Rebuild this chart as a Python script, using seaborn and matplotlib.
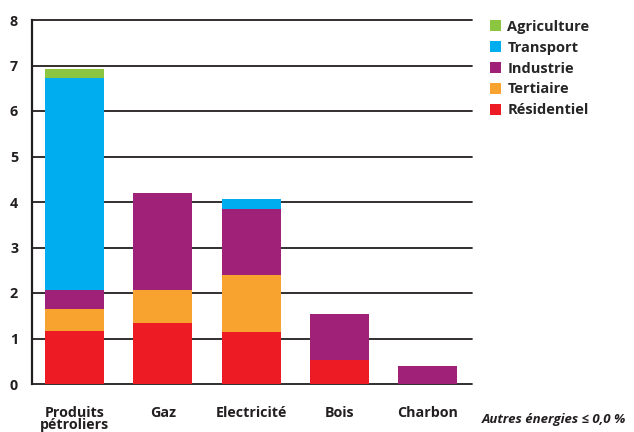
import matplotlib
matplotlib.use("Agg")
import matplotlib.pyplot as plt
from matplotlib.patches import Patch
import numpy as np
import pandas as pd
import seaborn as sns

sns.set_style("white")
plt.rcParams["font.family"] = ["Open Sans", "DejaVu Sans"]
plt.rcParams["font.weight"] = "bold"

# Consommation par source d'énergie et par secteur
energies = ["Produits\npétroliers", "Gaz", "Electricité", "Bois", "Charbon"]
residentiel = [1.17, 1.34, 1.14, 0.53, 0.0]
tertiaire = [0.48, 0.73, 1.26, 0.0, 0.0]
industrie = [0.42, 2.13, 1.45, 1.01, 0.40]
transport = [4.65, 0.0, 0.22, 0.0, 0.0]
agriculture = [0.20, 0.0, 0.0, 0.0, 0.0]

secteurs = ["Résidentiel", "Tertiaire", "Industrie", "Transport", "Agriculture"]
couleurs = ["#ed1c24", "#f8a230", "#a02278", "#00adee", "#8cc540"]
y_ticks = [0, 1, 2, 3, 4, 5, 6, 7, 8]
note = "Autres énergies ≤ 0,0 %"

df = pd.DataFrame(
    {"energie": energies, "Résidentiel": residentiel, "Tertiaire": tertiaire,
     "Industrie": industrie, "Transport": transport, "Agriculture": agriculture}
)
cumul = df[secteurs].cumsum(axis=1)

fig = plt.figure(figsize=(6.34, 4.32), dpi=100)
ax = fig.add_axes([32 / 634, 48 / 432, 440 / 634, 364 / 432])

# Empilement : on trace les totaux cumulés du plus haut au plus bas
for secteur, couleur in reversed(list(zip(secteurs, couleurs))):
    sns.barplot(data=cumul.assign(energie=energies), x="energie", y=secteur,
                color=couleur, width=0.67, saturation=1, ax=ax, zorder=3,
                linewidth=0, order=energies)

ax.set_ylim(0, 8)
ax.set_xlim(-0.48, 4.5)
ax.set_yticks(y_ticks)
ax.set_yticklabels([str(v) for v in y_ticks], fontsize=10.3, fontweight="bold",
                   color="#231f20")
ax.set_xticks(range(len(energies)))
ax.set_xticklabels(energies, fontsize=10.3, fontweight="bold", color="#231f20",
                   linespacing=0.8)
ax.tick_params(axis="x", length=0, pad=16)
ax.tick_params(axis="y", length=7, width=1.3, color="#231f20", pad=3, direction="out")
ax.set_xlabel("")
ax.set_ylabel("")

for v in y_ticks:
    ax.axhline(v, color="#231f20", lw=1.3, zorder=1, clip_on=False)

for s in ["top", "right", "bottom"]:
    ax.spines[s].set_visible(False)
ax.spines["left"].set_color("#231f20")
ax.spines["left"].set_linewidth(1.6)
ax.spines["left"].set_zorder(4)

handles = [Patch(facecolor=c, edgecolor="none", label=s)
           for s, c in zip(secteurs, couleurs)][::-1]
fig.legend(handles=handles, loc="upper left", bbox_to_anchor=(484 / 634, 1 - 14 / 432),
           frameon=False, handlelength=0.75, handleheight=0.75,
           handletextpad=0.45, labelspacing=0.47, borderaxespad=0,
           prop={"weight": "bold", "size": 10.5})

fig.text(482 / 634, 1 - 420 / 432, note, fontsize=9.5, fontweight="bold",
         style="italic", va="center", ha="left", color="#231f20",
         family=["Open Sans", "DejaVu Sans"])

fig.savefig("out.png", dpi=100)
